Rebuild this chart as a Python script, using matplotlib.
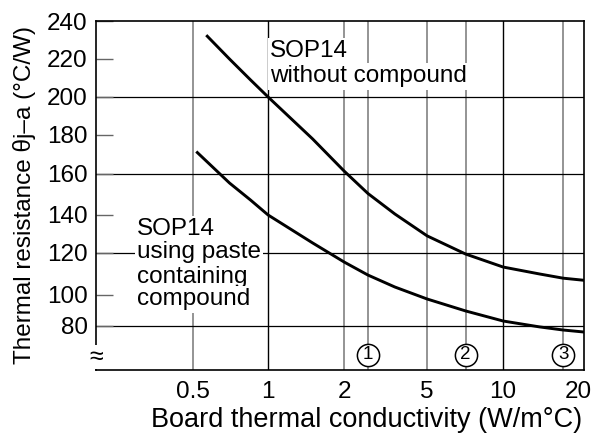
import numpy as np
import matplotlib
matplotlib.use("Agg")
import matplotlib.pyplot as plt
from matplotlib.transforms import blended_transform_factory

plt.rcParams['font.family'] = ['Liberation Sans', 'DejaVu Sans']

# ---- data ----
k_without = [0.57, 0.7, 0.85, 1, 1.5, 2, 2.6, 3.5, 5, 7.1, 10, 14, 17.4, 21.1]
r_without = [232, 220, 209, 200, 178, 161.5, 150.5, 140.5, 129, 119.5, 113.3, 110, 108, 107]
k_paste = [0.52, 0.7, 0.85, 1, 1.5, 2, 2.6, 3.5, 5, 7.1, 10, 14, 17.4, 21.1]
r_paste = [171, 155.6, 147.3, 140, 125.3, 115.7, 109.5, 103.8, 97.4, 89.7, 83.2, 79.4, 77.4, 76.1]

x_ticks = [0.5, 1, 2, 5, 10, 20]
x_ticklabels = ['0.5', '1', '2', '5', '10', '20']
y_ticks = [80, 100, 120, 140, 160, 180, 200, 220, 240]
y_grid = [80, 120, 160, 200]
board_k = [2.6, 7.1, 17.4]
board_labels = ['1', '2', '3']

# ---- hand-drawn axis scales (piecewise) ----
xs_log = np.log10([0.2, 0.5, 1, 2, 5, 10, 20, 40])
xs_pos = np.array([93.8, 193, 268, 344, 427, 503, 578, 653])
ys_val = np.array([20, 40, 60, 80, 100, 120, 140, 160, 180, 200, 220, 240, 260, 300])
ys_pos = -np.array([450, 388, 357, 326, 295, 253, 215, 174, 135, 97, 59, 21, -17, -93])


def xf(x):
    return np.interp(np.log10(np.clip(np.asarray(x, float), 1e-9, None)), xs_log, xs_pos)


def xi(p):
    return 10 ** np.interp(np.asarray(p, float), xs_pos, xs_log)


def yf(y):
    return np.interp(np.asarray(y, float), ys_val, ys_pos)


def yi(p):
    return np.interp(np.asarray(p, float), ys_pos, ys_val)


FS = 17.5
W, H = 599, 437
fig = plt.figure(figsize=(W / 100, H / 100), dpi=100)
ax = fig.add_axes([96 / W, (H - 370) / H, (584 - 96) / W, (370 - 21) / H])
ax.set_xscale('function', functions=(xf, xi))
ax.set_yscale('function', functions=(yf, yi))
ax.set_xlim(0.204, 21.1)
ax.set_ylim(51.6, 240)

# grid lines
for v in [0.5, 2, 5]:
    ax.axvline(v, color='#777777', lw=1.1, zorder=1)
for v in [1, 10]:
    ax.axvline(v, color='black', lw=1.0, zorder=1)
for v in board_k:
    ax.axvline(v, color='#777777', lw=1.1, zorder=1)
for v in y_grid:
    ax.axhline(v, color='black', lw=0.9, zorder=1)

# curves
ax.plot(k_without, r_without, color='black', lw=2.1, zorder=3)
ax.plot(k_paste, r_paste, color='black', lw=2.1, zorder=3)

# ticks
ax.set_xticks(x_ticks)
ax.set_xticklabels(x_ticklabels)
ax.set_yticks(y_ticks)
ax.set_yticklabels([str(v) for v in y_ticks])
ax.xaxis.set_minor_locator(matplotlib.ticker.NullLocator())
ax.yaxis.set_minor_locator(matplotlib.ticker.NullLocator())
ax.tick_params(axis='x', length=0, pad=8, labelsize=FS)
ax.tick_params(axis='y', direction='in', length=12, width=1, color='#666666',
               pad=6, labelsize=FS)
for s in ax.spines.values():
    s.set_linewidth(1.2)
    s.set_zorder(4)

ax.set_xlabel('Board thermal conductivity (W/m°C)', fontsize=19.5)
ax.xaxis.set_label_coords(0.555, -0.106)
ax.set_ylabel('Thermal resistance θj–a (°C/W)', fontsize=FS, labelpad=8)

# annotations
bb = dict(facecolor='white', edgecolor='none', boxstyle='square,pad=0.1')
ax.text(0.357, 0.897, 'SOP14', transform=ax.transAxes, fontsize=FS, ha='left',
        va='baseline', bbox=bb, zorder=2)
ax.text(0.357, 0.825, 'without compound', transform=ax.transAxes, fontsize=FS,
        ha='left', va='baseline', bbox=bb, zorder=2)
for txt, yb in zip(['SOP14', 'using paste', 'containing', 'compound'],
                   [0.387, 0.321, 0.249, 0.186]):
    ax.text(0.084, yb, txt, transform=ax.transAxes, fontsize=FS, ha='left',
            va='baseline', bbox=bb, zorder=2)

# board markers
tr = blended_transform_factory(ax.transData, ax.transAxes)
for k, lab in zip(board_k, board_labels):
    ax.plot([k], [0.043], transform=tr, marker='o', ms=16, mfc='white',
            mec='black', mew=1.1, zorder=5, clip_on=False)
    ax.text(k, 0.043, lab, transform=tr, fontsize=13.5, ha='center',
            va='center', zorder=6)

# axis break mark
ax.text(0, 0.037, '≈', transform=ax.transAxes, fontsize=18, ha='center',
        va='center', rotation=0, zorder=6,
        bbox=dict(facecolor='white', edgecolor='none', boxstyle='square,pad=0.0'))

fig.savefig('out.png', dpi=100)
